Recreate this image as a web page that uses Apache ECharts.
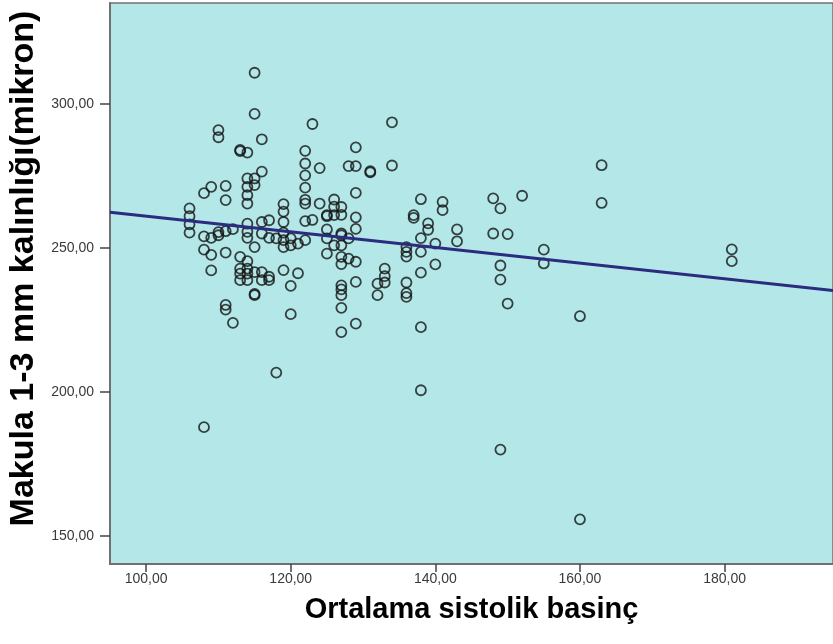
<!DOCTYPE html>
<html>
<head>
<meta charset="utf-8">
<script src="https://cdn.jsdelivr.net/npm/echarts@6/dist/echarts.min.js"></script>
<style>
  html, body { margin: 0; padding: 0; background: #fff; }
  #chart { width: 833px; height: 644px; }
</style>
</head>
<body>
<div id="chart"></div>
<script>
// systolic pressure columns and the thickness values measured at each
const pressure = [106, 108, 109, 110, 111, 112, 113, 114, 115, 116, 117, 118, 119, 120, 121, 122,
  123, 124, 125, 126, 127, 128, 129, 131, 132, 133, 134, 136, 137, 138, 139, 140, 141, 143,
  148, 149, 150, 152, 155, 160, 163, 181]
const thickness = [
  [263.7, 261.0, 258.2, 255.3],
  [269.0, 254.0, 249.4, 187.8],
  [271.2, 253.5, 247.6, 242.2],
  [290.9, 288.4, 255.5, 254.4],
  [271.5, 266.6, 255.8, 248.4, 230.2, 228.6],
  [256.5, 224.0],
  [284.0, 283.6, 246.9, 242.8, 241.1, 238.8],
  [283.1, 274.1, 271.2, 268.3, 265.4, 258.4, 255.6, 253.5, 245.4, 242.8, 241.1, 238.8],
  [310.8, 296.5, 274.1, 271.8, 250.3, 241.6, 234.0, 233.6],
  [287.7, 276.5, 259.0, 255.0, 241.6, 238.8],
  [259.6, 253.5, 240.0, 238.8],
  [253.3, 206.7],
  [265.2, 262.6, 259.0, 255.3, 252.7, 250.3, 242.3],
  [253.3, 250.9, 236.8, 227.0],
  [251.5, 241.2],
  [283.7, 279.3, 275.2, 270.9, 266.7, 265.4, 259.3, 252.7],
  [293.0, 259.7],
  [277.7, 265.4],
  [261.4, 261.0, 256.4, 253.3, 248.0],
  [266.8, 264.3, 261.4, 250.9],
  [264.2, 261.5, 255.0, 254.4, 250.9, 246.9, 244.4, 237.0, 235.6, 233.6, 229.2, 220.8],
  [278.4, 253.3, 246.3],
  [284.9, 278.4, 269.1, 260.6, 256.6, 245.2, 238.2, 223.7],
  [276.6, 276.2],
  [237.6, 233.6],
  [242.8, 240.2, 238.0],
  [293.6, 278.6],
  [250.3, 248.6, 247.0, 238.0, 234.3, 233.0],
  [261.4, 260.4],
  [266.9, 253.4, 248.6, 241.4, 222.5, 200.6],
  [258.5, 256.3],
  [251.5, 244.3],
  [266.0, 263.1],
  [256.4, 252.3],
  [267.2, 255.0],
  [263.7, 243.9, 239.0, 180.0],
  [254.8, 230.7],
  [268.1],
  [249.4, 244.6],
  [226.3, 155.8],
  [278.7, 265.6],
  [249.5, 245.4]
]
// fit line end points
const fitX = [95, 195]
const fitY = [262.4, 235.2]
// tick labels
const xTicks = [100, 120, 140, 160, 180]
const yTicks = [150, 200, 250, 300]

const points = []
pressure.forEach((p, i) => {
  thickness[i].forEach(t => points.push([p, t]))
})

const fmt = v => v.toFixed(2).replace('.', ',')

const chart = echarts.init(document.getElementById('chart'))
chart.setOption({
  animation: false,
  grid: {
    left: 110, right: 0, top: 3, bottom: 80,
    outerBoundsMode: 'none',
    show: true,
    backgroundColor: '#b4e7e8',
    borderColor: '#707070',
    borderWidth: 1.5
  },
  xAxis: {
    type: 'value',
    min: 95,
    max: 195,
    name: 'Ortalama sistolik basinç',
    nameLocation: 'middle',
    nameGap: 31,
    nameTextStyle: { fontFamily: 'Liberation Sans', fontWeight: 'bold', fontSize: 29, color: '#000' },
    splitLine: { show: false },
    axisLine: { lineStyle: { color: '#707070', width: 2 } },
    axisTick: { length: 8, customValues: xTicks, lineStyle: { color: '#444', width: 1.5 } },
    axisLabel: {
      customValues: xTicks, margin: 8, formatter: fmt,
      fontFamily: 'Liberation Sans', fontSize: 14, color: '#3a3a3a'
    }
  },
  yAxis: {
    type: 'value',
    min: 140.3,
    max: 335,
    name: 'Makula 1-3 mm kalınlığı(mikron)',
    nameLocation: 'middle',
    nameGap: 62,
    nameTextStyle: {
      fontFamily: 'Liberation Sans', fontWeight: 'bold', fontSize: 34, color: '#000',
      padding: [0, 0, 0, 30]
    },
    splitLine: { show: false },
    axisLine: { lineStyle: { color: '#707070', width: 2 } },
    axisTick: { length: 10, customValues: yTicks, lineStyle: { color: '#444', width: 1.5 } },
    axisLabel: {
      customValues: yTicks, margin: 16, formatter: fmt,
      fontFamily: 'Liberation Sans', fontSize: 14, color: '#3a3a3a'
    }
  },
  series: [
    {
      type: 'scatter',
      data: points,
      symbol: 'circle',
      symbolSize: 10,
      itemStyle: { color: 'rgba(0,0,0,0)', borderColor: '#151515', borderWidth: 1.8 }
    },
    {
      type: 'line',
      data: fitX.map((x, i) => [x, fitY[i]]),
      symbol: 'none',
      lineStyle: { color: '#2b2b80', width: 3 }
    }
  ]
})
</script>
</body>
</html>
